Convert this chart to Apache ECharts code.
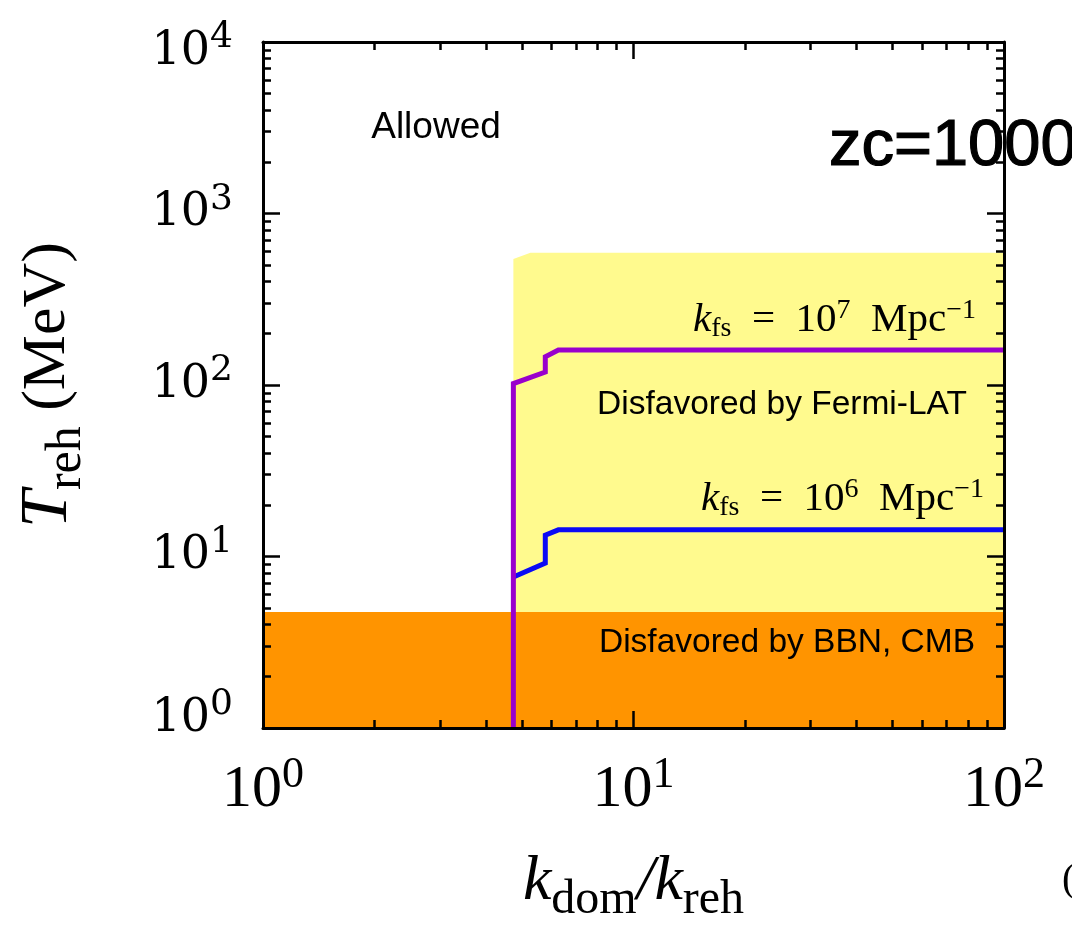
<!DOCTYPE html>
<html>
<head>
<meta charset="utf-8">
<script src="https://cdn.jsdelivr.net/npm/echarts@6/dist/echarts.min.js"></script>
<style>
html,body{margin:0;padding:0;background:#fff;}
#chart{width:1072px;height:933px;}
</style>
</head>
<body>
<div id="chart"></div>
<script>
// ---- data ----
const xRange = [1, 100];
const yRange = [1, 10000];
const xTickExponents = [0, 1, 2];
const yTickExponents = [0, 1, 2, 3, 4];
const xMinorTicks = [2,3,4,5,6,7,8,9,20,30,40,50,60,70,80,90];
const yMinorTicks = [2,3,4,5,6,7,8,9,20,30,40,50,60,70,80,90,200,300,400,500,600,700,800,900,2000,3000,4000,5000,6000,7000,8000,9000];

// BBN/CMB disfavoured band (T_reh below this value)
const bbnX = [1, 100];
const bbnY = [4.75, 4.75];
// Fermi-LAT disfavoured region (upper boundary)
const fermiX = [4.74, 5.27, 100];
const fermiY = [543, 590, 590];
// k_fs = 1e7 Mpc^-1 curve
const kfs7X = [4.74, 4.74, 5.78, 5.78, 6.27, 100];
const kfs7Y = [1, 102, 119, 146, 160, 160];
// k_fs = 1e6 Mpc^-1 curve
const kfs6X = [4.74, 5.78, 5.78, 6.27, 100];
const kfs6Y = [7.6, 9.16, 13.3, 14.3, 14.3];

const zip = (xs, ys) => xs.map((x, i) => [x, ys[i]]);

// ---- chart ----
const chart = echarts.init(document.getElementById('chart'), null, {renderer: 'canvas'});
const grid = {left: 263, top: 42, width: 741, height: 686, containLabel: false};
const AX = '#000';

const serifX = 'Liberation Serif';
const serifY = 'DejaVu Serif';

function frameAxis(pos, isX, withLabels) {
  const ax = {
    type: 'log', logBase: 10, position: pos, gridIndex: 0,
    min: isX ? xRange[0] : yRange[0], max: isX ? xRange[1] : yRange[1],
    z: 10,
    axisLine: {show: true, onZero: false, lineStyle: {color: AX, width: 3}},
    axisTick: {show: true, inside: true, length: 17, lineStyle: {color: AX, width: 2.5}},
    splitLine: {show: false},
    minorTick: {show: false},
    axisLabel: {show: false}
  };
  if (withLabels) {
    const exps = isX ? xTickExponents : yTickExponents;
    const eMin = exps[0], eMax = exps[exps.length - 1];
    ax.axisLabel = {
      show: true,
      margin: isX ? 31 : 30,
      formatter: function (v) {
        const e = Math.round(Math.log10(v));
        if (exps.indexOf(e) < 0) return '';
        if (!isX && e === eMax) return '{bh|10}{sh|' + e + '}';
        if (!isX && e === eMin) return '{bl|10}{sl|' + e + '}';
        return '{b|10}{s|' + e + '}';
      },
      rich: isX ? {
        b: {fontFamily: serifX, fontSize: 60, color: '#000', lineHeight: 62},
        s: {fontFamily: serifX, fontSize: 44, color: '#000', height: 32, verticalAlign: 'top'}
      } : {
        b: {fontFamily: serifY, fontSize: 46, color: '#000', lineHeight: 58},
        s: {fontFamily: serifY, fontSize: 36, color: '#000', height: 30, verticalAlign: 'top'},
        bh: {fontFamily: serifY, fontSize: 46, color: '#000', lineHeight: 58, padding: [20, 0, 0, 0]},
        sh: {fontFamily: serifY, fontSize: 36, color: '#000', height: 30, padding: [10, 0, 0, 0], verticalAlign: 'top'},
        bl: {fontFamily: serifY, fontSize: 46, color: '#000', lineHeight: 58, padding: [0, 0, 18, 0]},
        sl: {fontFamily: serifY, fontSize: 36, color: '#000', height: 12, verticalAlign: 'top'}
      }
    };
  }
  return ax;
}

function minorAxis(pos, isX) {
  const vals = (isX ? xMinorTicks : yMinorTicks).map(Math.log10);
  return {
    type: 'value', position: pos, gridIndex: 0,
    min: 0, max: isX ? Math.log10(xRange[1]) : Math.log10(yRange[1]),
    z: 10,
    axisLine: {show: false, onZero: false},
    axisTick: {show: true, inside: true, length: 8, customValues: vals, lineStyle: {color: AX, width: 2.5}},
    axisLabel: {show: false},
    splitLine: {show: false}
  };
}

const xBottom = frameAxis('bottom', true, true);
xBottom.name = '{k|k}{sub|dom}{k|/k}{sub|reh}';
xBottom.nameLocation = 'middle';
xBottom.nameGap = 124;
xBottom.nameTextStyle = {
  rich: {
    k: {fontFamily: serifX, fontStyle: 'italic', fontSize: 64, color: '#000', lineHeight: 60},
    sub: {fontFamily: serifX, fontSize: 48, color: '#000', height: 24, verticalAlign: 'bottom'}
  }
};

const yLeft = frameAxis('left', false, true);
yLeft.name = '{t|T}{sub|reh}{n| (MeV)}';
yLeft.nameLocation = 'middle';
yLeft.nameRotate = 90;
yLeft.nameGap = 184;
yLeft.nameTextStyle = {
  rich: {
    t: {fontFamily: serifX, fontStyle: 'italic', fontSize: 68, color: '#000', lineHeight: 62},
    sub: {fontFamily: serifX, fontSize: 50, color: '#000', height: 24, verticalAlign: 'bottom'},
    n: {fontFamily: serifX, fontSize: 62, color: '#000', lineHeight: 62}
  }
};

const kfsRich = {
  k: {fontFamily: serifX, fontStyle: 'italic', fontSize: 41, fill: '#000', lineHeight: 48},
  sub: {fontFamily: serifX, fontSize: 28, fill: '#000', height: 30, verticalAlign: 'bottom'},
  t: {fontFamily: serifX, fontSize: 41, fill: '#000', lineHeight: 48},
  sup: {fontFamily: serifX, fontSize: 28, fill: '#000', height: 30, verticalAlign: 'top'}
};

const option = {
  backgroundColor: '#fff',
  animation: false,
  grid: grid,
  xAxis: [xBottom, frameAxis('top', true, false), minorAxis('bottom', true), minorAxis('top', true)],
  yAxis: [yLeft, frameAxis('right', false, false), minorAxis('left', false), minorAxis('right', false)],
  series: [
    {
      name: 'Fermi-LAT', type: 'line', xAxisIndex: 0, yAxisIndex: 0, z: 1,
      data: zip(fermiX, fermiY), showSymbol: false, symbol: 'none',
      lineStyle: {width: 0, color: '#fffa8e'},
      areaStyle: {color: '#fffa8e', opacity: 1, origin: 'start'}
    },
    {
      name: 'BBN, CMB', type: 'line', xAxisIndex: 0, yAxisIndex: 0, z: 2,
      data: zip(bbnX, bbnY), showSymbol: false, symbol: 'none',
      lineStyle: {width: 0, color: '#ff9400'},
      areaStyle: {color: '#ff9400', opacity: 1, origin: 'start'}
    },
    {
      name: 'kfs 1e6', type: 'line', xAxisIndex: 0, yAxisIndex: 0, z: 3,
      data: zip(kfs6X, kfs6Y), showSymbol: false, symbol: 'none',
      lineStyle: {width: 5, color: '#0a0af5', join: 'miter'}
    },
    {
      name: 'kfs 1e7', type: 'line', xAxisIndex: 0, yAxisIndex: 0, z: 4,
      data: zip(kfs7X, kfs7Y), showSymbol: false, symbol: 'none',
      lineStyle: {width: 5, color: '#9900cc', join: 'miter'}
    }
  ],
  graphic: [
    {type: 'text', x: 436, y: 128, z: 20,
      style: {text: 'Allowed', font: '37px "Liberation Sans"', fill: '#000', align: 'center', verticalAlign: 'middle'}},
    {type: 'text', x: 782, y: 405, z: 20,
      style: {text: 'Disfavored by Fermi-LAT', font: '33.5px "Liberation Sans"', fill: '#000', align: 'center', verticalAlign: 'middle'}},
    {type: 'text', x: 787, y: 643, z: 20,
      style: {text: 'Disfavored by BBN, CMB', font: '33.5px "Liberation Sans"', fill: '#000', align: 'center', verticalAlign: 'middle'}},
    {type: 'text', x: 829, y: 147, z: 20,
      style: {text: 'zc=1000', font: '65px "Liberation Sans"', fill: '#000', stroke: '#000', lineWidth: 1.2, align: 'left', verticalAlign: 'middle'}},
    {type: 'text', x: 1062, y: 880, z: 20,
      style: {text: '(', font: '40px "Liberation Serif"', fill: '#000', align: 'left', verticalAlign: 'middle'}},
    {type: 'text', x: 976, y: 320, z: 20,
      style: {
        text: '{k|k}{sub|fs}{t|  =  10}{sup|7}{t|  Mpc}{sup|−1}',
        align: 'right', verticalAlign: 'middle', rich: kfsRich
      }},
    {type: 'text', x: 984, y: 499, z: 20,
      style: {
        text: '{k|k}{sub|fs}{t|  =  10}{sup|6}{t|  Mpc}{sup|−1}',
        align: 'right', verticalAlign: 'middle', rich: kfsRich
      }}
  ]
};
chart.setOption(option);
</script>
</body>
</html>
